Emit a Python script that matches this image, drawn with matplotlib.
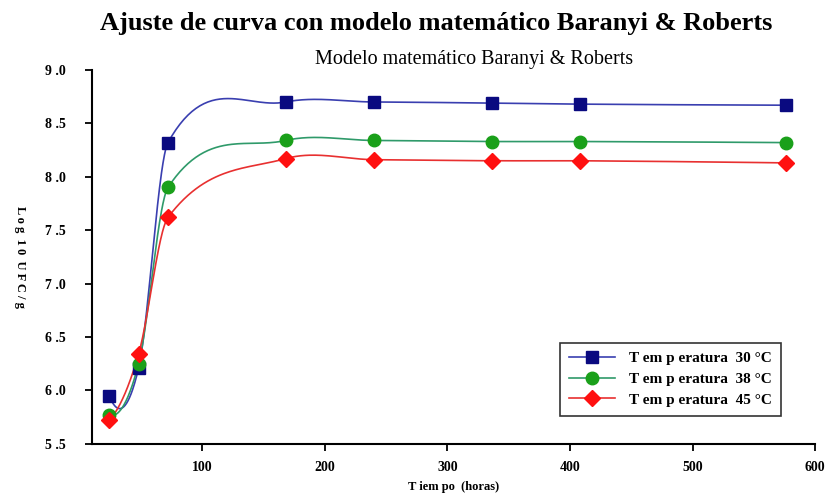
import numpy as np
import matplotlib.pyplot as plt

# data
horas = [24, 48, 72, 168, 240, 336, 408, 576]
t30 = [5.95, 6.21, 8.32, 8.70, 8.70, 8.69, 8.68, 8.67]
t38 = [5.77, 6.25, 7.90, 8.34, 8.34, 8.33, 8.33, 8.32]
t45 = [5.72, 6.34, 7.62, 8.17, 8.16, 8.15, 8.15, 8.13]
labels = ["T em p eratura  30 °C", "T em p eratura  38 °C", "T em p eratura  45 °C"]


def smooth(x, y, n=60):
    # cubic hermite, slopes from neighbours, parabolic ends
    x = np.asarray(x, float)
    y = np.asarray(y, float)
    d = np.diff(y) / np.diff(x)
    m = np.zeros(len(x))
    m[1:-1] = (y[2:] - y[:-2]) / (x[2:] - x[:-2])
    m[0] = 2 * d[0] - m[1]
    m[-1] = 2 * d[-1] - m[-2]
    xs, ys = [], []
    for i in range(len(x) - 1):
        h = x[i + 1] - x[i]
        t = np.linspace(0, 1, n)
        h00 = 2 * t**3 - 3 * t**2 + 1
        h10 = t**3 - 2 * t**2 + t
        h01 = -2 * t**3 + 3 * t**2
        h11 = t**3 - t**2
        xs.extend(x[i] + t * h)
        ys.extend(h00 * y[i] + h10 * h * m[i] + h01 * y[i + 1] + h11 * h * m[i + 1])
    return np.array(xs), np.array(ys)


series = [
    (t30, "#3a3fb0", "#0a0a80", "s", 9),
    (t38, "#2f9a6a", "#1aa01a", "o", 9),
    (t45, "#e83030", "#ff1010", "D", 8),
]

plt.rcParams["font.family"] = "Liberation Serif"

fig = plt.figure(figsize=(8.25, 4.96), dpi=100)
ax = fig.add_axes([0.1115, 0.105, 0.8765, 0.754])

handles = []
for (vals, lc, mc, mk, ms), lab in zip(series, labels):
    sx, sy = smooth(horas, vals)
    ax.plot(sx, sy, color=lc, lw=1.2, zorder=2)
    ax.plot(horas, vals, ls="none", marker=mk, ms=ms, color=mc, zorder=3)
    h, = ax.plot([], [], color=lc, lw=1.2, marker=mk, ms=ms, mfc=mc, mec=mc)
    handles.append(h)

ax.set_xlim(10, 600)
ax.set_ylim(5.5, 9.0)
ax.set_xticks([100, 200, 300, 400, 500, 600])
ax.set_yticks(np.arange(5.5, 9.01, 0.5))
ax.set_yticklabels([f"{v:.1f}".replace(".", " .") for v in np.arange(5.5, 9.01, 0.5)])
ax.spines["top"].set_visible(False)
ax.spines["right"].set_visible(False)
ax.spines["left"].set_linewidth(1.5)
ax.spines["bottom"].set_linewidth(1.5)
ax.tick_params(direction="out", length=5, width=1.3, labelsize=10)
for tl in ax.get_xticklabels() + ax.get_yticklabels():
    tl.set_fontweight("bold")
ax.tick_params(axis="x", pad=7)
ax.tick_params(axis="y", pad=14)

ax.set_xlabel("T iem po  (horas)", fontsize=9, fontweight="bold", labelpad=5)
ax.set_ylabel("L o g  1 0  U F C / g", fontsize=9, fontweight="bold",
              rotation=270, labelpad=22)

leg = ax.legend(handles, labels, loc="lower right", bbox_to_anchor=(0.963, 0.055),
                frameon=True, fancybox=False, edgecolor="black",
                prop={"weight": "bold", "size": 11}, handlelength=3.0,
                borderpad=0.6, labelspacing=0.45, handletextpad=0.9)
leg.get_frame().set_linewidth(1.2)

fig.text(0.529, 0.952, "Ajuste de curva con modelo matemático Baranyi & Roberts",
         ha="center", va="center", fontsize=19, fontweight="bold")
fig.text(0.575, 0.88, "Modelo matemático Baranyi & Roberts",
         ha="center", va="center", fontsize=14.5)

fig.savefig("out.png", dpi=100)
